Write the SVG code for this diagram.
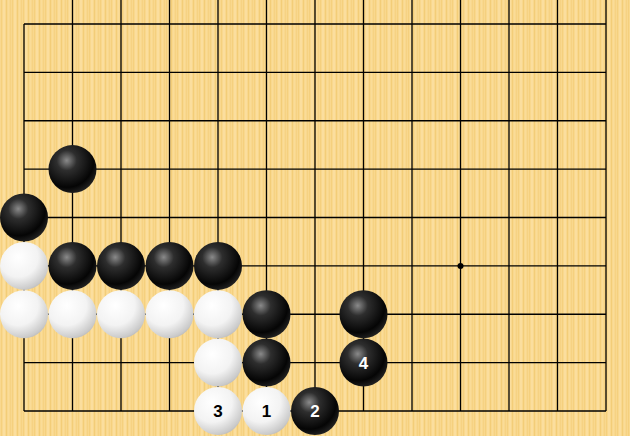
<svg xmlns="http://www.w3.org/2000/svg" width="630" height="436" viewBox="0 0 630 436">
<defs>
<pattern id="wood" width="11" height="436" patternUnits="userSpaceOnUse">
<rect width="11" height="436" fill="#F9D88E"/>
<rect x="1" width="1" height="436" fill="#F5D07E"/>
<rect x="3" width="2" height="436" fill="#FBDE9E"/>
<rect x="6" width="1" height="436" fill="#F3CD78"/>
<rect x="8" width="1" height="436" fill="#FADC98"/>
<rect x="10" width="1" height="436" fill="#F6D283"/>
</pattern>
<radialGradient id="gb" cx="0.38" cy="0.32" r="0.7">
<stop offset="0" stop-color="#8a8a8a"/>
<stop offset="0.3" stop-color="#2e2e2e"/>
<stop offset="0.8" stop-color="#050505"/>
<stop offset="1" stop-color="#202020"/>
</radialGradient>
<radialGradient id="gw" cx="0.38" cy="0.32" r="0.75">
<stop offset="0" stop-color="#ffffff"/>
<stop offset="0.55" stop-color="#f3f3f3"/>
<stop offset="0.9" stop-color="#cacaca"/>
<stop offset="1" stop-color="#b4b4b4"/>
</radialGradient>
<style>
.ln{stroke:#000;stroke-width:1.3;fill:none}
.b{fill:url(#gb)}
.w{fill:url(#gw)}
.nb{font-family:"Liberation Sans",Arial,sans-serif;font-weight:bold;font-size:17px;fill:#fff;text-anchor:middle}
.nw{font-family:"Liberation Sans",Arial,sans-serif;font-weight:bold;font-size:17px;fill:#000;text-anchor:middle}
</style>
</defs>
<rect width="630" height="436" fill="url(#wood)"/>
<g id="grid" class="ln">
<path d="M24 24H606M24 72.4H606M24 120.75H606M24 169.1H606M24 217.5H606M24 265.9H606M24 314.25H606M24 362.6H606M24 411H606"/>
<path d="M24 24V411M72.5 0V411M121 0V411M169.5 0V411M218 0V411M266.5 0V411M315 0V411M363.5 0V411M412 0V411M460.5 0V411M509 0V411M557.5 0V411M606 0V411"/>
</g>
<circle id="star" cx="460.5" cy="265.9" r="3" fill="#000"/>
<g id="black-stones">
<circle class="b" cx="72.5" cy="169.1" r="24"/>
<circle class="b" cx="24" cy="217.5" r="24"/>
<circle class="b" cx="72.5" cy="265.9" r="24"/>
<circle class="b" cx="121" cy="265.9" r="24"/>
<circle class="b" cx="169.5" cy="265.9" r="24"/>
<circle class="b" cx="218" cy="265.9" r="24"/>
<circle class="b" cx="266.5" cy="314.25" r="24"/>
<circle class="b" cx="363.5" cy="314.25" r="24"/>
<circle class="b" cx="266.5" cy="362.6" r="24"/>
</g>
<g id="white-stones">
<circle class="w" cx="24" cy="265.9" r="24"/>
<circle class="w" cx="24" cy="314.25" r="24"/>
<circle class="w" cx="72.5" cy="314.25" r="24"/>
<circle class="w" cx="121" cy="314.25" r="24"/>
<circle class="w" cx="169.5" cy="314.25" r="24"/>
<circle class="w" cx="218" cy="314.25" r="24"/>
<circle class="w" cx="218" cy="362.6" r="24"/>
</g>
<g id="move1"><circle class="w" cx="266.5" cy="411" r="24"/><text class="nw" x="266.5" y="417">1</text></g>
<g id="move2"><circle class="b" cx="315" cy="411" r="24"/><text class="nb" x="315" y="417">2</text></g>
<g id="move3"><circle class="w" cx="218" cy="411" r="24"/><text class="nw" x="218" y="417">3</text></g>
<g id="move4"><circle class="b" cx="363.5" cy="362.6" r="24"/><text class="nb" x="363.5" y="368.6">4</text></g>
</svg>
